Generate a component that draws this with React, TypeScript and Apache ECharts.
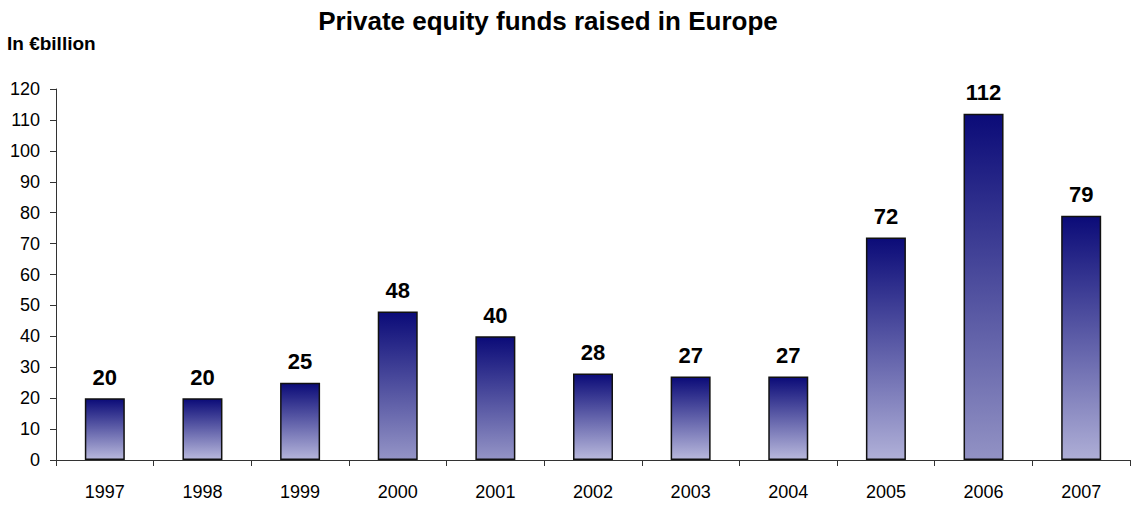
import React, { useEffect, useRef } from "react";
import * as echarts from "echarts";

const years = ["1997", "1998", "1999", "2000", "2001", "2002", "2003", "2004", "2005", "2006", "2007"];
const fundsRaised = [20, 20, 25, 48, 40, 28, 27, 27, 72, 112, 79];
const yTicks = { min: 0, max: 120, interval: 10 };

const TOP_COLOR = "#0b0b78";
const bottomColors = ["#b8b8dc", "#b8b8dc", "#b4b4da", "#9494c6", "#9494c6", "#b8b8dc", "#b8b8dc", "#b8b8dc", "#b0b0d8", "#9292c4", "#aeaed6"];

export default function App() {
  const ref = useRef<HTMLDivElement>(null);
  useEffect(() => {
    if (!ref.current) return;
    const chart = echarts.init(ref.current, null, { renderer: "svg" });
    chart.setOption({
      animation: false,
      backgroundColor: "#ffffff",
      textStyle: { fontFamily: "Liberation Sans, Arial, sans-serif" },
      title: [
        {
          text: "Private equity funds raised in Europe",
          left: 548,
          textAlign: "center",
          top: 8,
          padding: 0,
          textStyle: { fontSize: 26, fontWeight: "bold", color: "#000" },
        },
        {
          text: "In €billion",
          left: 7,
          top: 34,
          padding: 0,
          textStyle: { fontSize: 19, fontWeight: "bold", color: "#000" },
        },
      ],
      grid: { left: 56, right: 2, top: 89, bottom: 46, containLabel: false },
      xAxis: {
        type: "category",
        data: years,
        boundaryGap: true,
        axisLine: { lineStyle: { color: "#333", width: 1 } },
        axisTick: { show: true, alignWithLabel: false, length: 6, lineStyle: { color: "#333" } },
        axisLabel: { color: "#000", fontSize: 18, margin: 23 },
      },
      yAxis: {
        type: "value",
        min: yTicks.min,
        max: yTicks.max,
        interval: yTicks.interval,
        splitLine: { show: false },
        axisLine: { show: true, lineStyle: { color: "#333", width: 1 } },
        axisTick: { show: true, length: 6, lineStyle: { color: "#333" } },
        axisLabel: { color: "#000", fontSize: 18, margin: 16 },
      },
      series: [
        {
          type: "bar",
          barWidth: 40,
          data: fundsRaised.map((v, i) => ({
            value: v,
            itemStyle: {
              color: new echarts.graphic.LinearGradient(0, 0, 0, 1, [
                { offset: 0, color: TOP_COLOR },
                { offset: 1, color: bottomColors[i] },
              ]),
            },
          })),
          itemStyle: { borderColor: "#111", borderWidth: 1.5 },
          label: {
            show: true,
            position: "top",
            distance: 10,
            color: "#000",
            fontSize: 22,
            fontWeight: "bold",
          },
        },
      ],
    });
    return () => chart.dispose();
  }, []);
  return <div ref={ref} style={{ width: 1132, height: 506, position: "fixed", left: 0, top: 0 }} />;
}
